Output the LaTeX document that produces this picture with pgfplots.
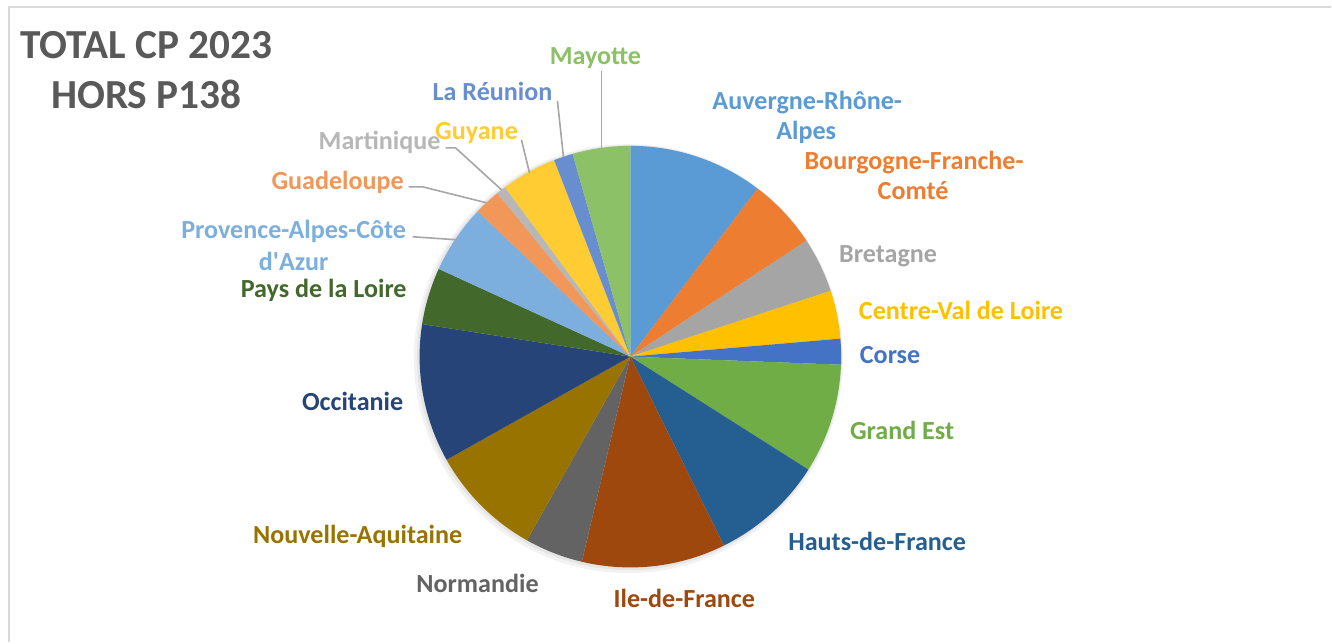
\documentclass[border=0pt]{standalone}
\usepackage{pgfplots}
\usepackage{pgfplotstable}
\pgfplotsset{compat=1.18}
\usepackage{fontspec}
\setmainfont{Carlito}
\definecolor{c1}{HTML}{5B9BD5}
\definecolor{c2}{HTML}{ED7D31}
\definecolor{c3}{HTML}{A5A5A5}
\definecolor{c4}{HTML}{FFC000}
\definecolor{c5}{HTML}{4472C4}
\definecolor{c6}{HTML}{70AD47}
\definecolor{c7}{HTML}{255E91}
\definecolor{c8}{HTML}{9E480E}
\definecolor{c9}{HTML}{636363}
\definecolor{c10}{HTML}{997300}
\definecolor{c11}{HTML}{264478}
\definecolor{c12}{HTML}{43682B}
\definecolor{c13}{HTML}{7CAFDD}
\definecolor{c14}{HTML}{F1975A}
\definecolor{c15}{HTML}{B7B7B7}
\definecolor{c16}{HTML}{FFCD33}
\definecolor{c17}{HTML}{698ED0}
\definecolor{c18}{HTML}{8CC168}
\definecolor{titlegray}{HTML}{595959}
\definecolor{leader}{HTML}{A6A6A6}
\definecolor{frame}{HTML}{D9D9D9}

% share of each region (percent), in clockwise order from the top
\pgfplotstableread{
val col
10.31 c1
5.42 c2
4.22 c3
3.69 c4
1.97 c5
8.39 c6
8.67 c7
11.03 c8
4.47 c9
8.69 c10
10.61 c11
4.36 c12
5.28 c13
2.03 c14
0.72 c15
4.25 c16
1.47 c17
4.42 c18
}\piedata
\pgfplotstablecreatecol[create col/expr accum={\pgfmathaccuma + \thisrow{val}}{0}]{cum}{\piedata}

\newcommand\lab{\fontsize{19.6}{22}\selectfont\bfseries}

\begin{document}
\begin{tikzpicture}
\begin{axis}[x=0.75pt, y=0.75pt, xmin=0, xmax=1332, ymin=0, ymax=643,
  y dir=reverse, hide axis, clip=false, scale only axis]
\fill[white] (axis cs:0,0) rectangle (axis cs:1332,643);
\draw[frame, line width=2pt] (axis cs:9,643) -- (axis cs:9,7) -- (axis cs:1332,7);
% soft shadow
\fill[black, opacity=0.05] (axis cs:629,359) circle[radius=161pt];
\fill[black, opacity=0.05] (axis cs:630,358) circle[radius=159.5pt];
\pgfplotsinvokeforeach{0,...,17}{
  \pgfplotstablegetelem{#1}{val}\of\piedata \let\sval\pgfplotsretval
  \pgfplotstablegetelem{#1}{cum}\of\piedata \let\scum\pgfplotsretval
  \pgfplotstablegetelem{#1}{col}\of\piedata \let\scol\pgfplotsretval
  \pgfmathsetmacro\sa{90-3.6*(\scum-\sval)}
  \pgfmathsetmacro\ea{90-3.6*\scum}
  \edef\tmp{\noexpand\fill[\scol] (axis cs:631,357) -- ++(\sa:158.25pt) arc[start angle=\sa, end angle=\ea, radius=158.25pt] -- cycle;}
  \tmp
}
% leader lines
\begin{scope}[leader, line width=1.2pt]
\draw (axis cs:602,71) -- (axis cs:602,148);
\draw (axis cs:558,101) -- (axis cs:564,157);
\draw (axis cs:522,140) -- (axis cs:530,173);
\draw (axis cs:446,148) -- (axis cs:456,148) -- (axis cs:502,190);
\draw (axis cs:409,187) -- (axis cs:423,187) -- (axis cs:487,203);
\draw (axis cs:413,237) -- (axis cs:457,240);
\end{scope}
% title
\node[anchor=base, text=titlegray, font=\fontsize{31}{32}\selectfont\bfseries] at (axis cs:146.5,59) {TOTAL CP 2023};
\node[anchor=base, text=titlegray, font=\fontsize{31}{32}\selectfont\bfseries] at (axis cs:146.5,109) {HORS P138};
% labels
\begin{scope}[every node/.style={anchor=base, font=\lab, inner sep=0pt}]
\node[text=c1] at (axis cs:808,110) {Auvergne-Rhône-};
\node[text=c1] at (axis cs:807,140) {Alpes};
\node[text=c2] at (axis cs:915,170) {Bourgogne-Franche-};
\node[text=c2] at (axis cs:914,200) {Comté};
\node[text=c3] at (axis cs:889,263) {Bretagne};
\node[text=c4] at (axis cs:962,320) {Centre-Val de Loire};
\node[text=c5] at (axis cs:891,364) {Corse};
\node[text=c6] at (axis cs:903,440) {Grand Est};
\node[text=c7] at (axis cs:878,551) {Hauts-de-France};
\node[text=c8] at (axis cs:685,608) {Ile-de-France};
\node[text=c9] at (axis cs:478,593) {Normandie};
\node[text=c10] at (axis cs:358,544) {Nouvelle-Aquitaine};
\node[text=c11] at (axis cs:353,411) {Occitanie};
\node[text=c12] at (axis cs:324,298) {Pays de la Loire};
\node[text=c13] at (axis cs:294,239) {Provence-Alpes-Côte};
\node[text=c13] at (axis cs:294,271) {d\textquotesingle Azur};
\node[text=c14] at (axis cs:338,190) {Guadeloupe};
\node[text=c15] at (axis cs:380,150) {Martinique};
\node[text=c16] at (axis cs:477,140) {Guyane};
\node[text=c17] at (axis cs:493,101) {La Réunion};
\node[text=c18] at (axis cs:596,65) {Mayotte};
\end{scope}
\end{axis}
\end{tikzpicture}
\end{document}
